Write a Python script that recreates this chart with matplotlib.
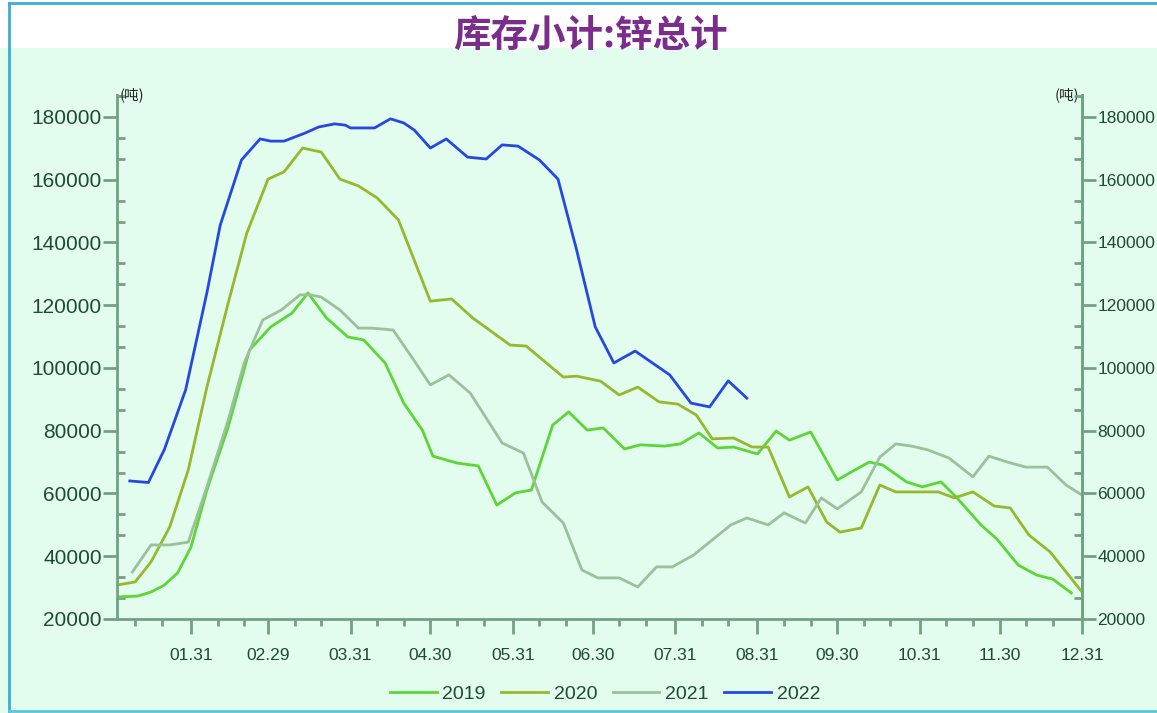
import matplotlib.pyplot as plt
from matplotlib.ticker import FixedLocator, MultipleLocator
from matplotlib.patches import Rectangle

plt.rcParams['font.family'] = ['Liberation Sans', 'Noto Sans CJK SC', 'DejaVu Sans']

# day-of-year (leap-year numbering, 02.29 = day 60) and stocks (吨)
days_2019 = [3, 11, 16, 21, 26, 31, 37, 45, 53, 61, 69, 75, 82, 90, 96, 104, 111, 118, 122, 131,
             139, 146, 153, 159, 167, 173, 180, 186, 194, 200, 209, 215, 222, 229, 235, 244, 251, 256,
             264, 274, 280, 286, 291, 300, 306, 313, 319, 328, 334, 342, 349, 355, 362]
vals_2019 = [27000, 27300, 28600, 30800, 34700, 42900, 61100, 81200, 105700, 113100, 117500, 123900,
             115900, 109900, 108900, 101600, 88800, 80200, 71900, 69700, 68800, 56300, 60200, 61100,
             81800, 86000, 80200, 80900, 74200, 75500, 75100, 75800, 79300, 74500, 74800, 72600, 79900,
             77000, 79600, 64300, 67200, 70000, 69100, 63700, 62100, 63700, 58600, 50000, 45500, 37200,
             34000, 32700, 28300]

days_2020 = [3, 10, 16, 23, 30, 37, 45, 52, 60, 66, 73, 80, 87, 94, 101, 109, 121, 129, 137, 151,
             157, 171, 176, 185, 192, 199, 207, 214, 221, 227, 235, 242, 248, 256, 263, 270, 275, 283,
             290, 296, 312, 318, 325, 333, 339, 346, 354, 360, 366]
vals_2020 = [30800, 31800, 38200, 49300, 67500, 93900, 120700, 143000, 160200, 162500, 170100, 168800,
             160200, 158000, 154200, 147200, 121300, 122000, 115900, 107300, 107000, 97100, 97400, 95800,
             91400, 93900, 89200, 88500, 85000, 77400, 77700, 74800, 74800, 58900, 62100, 50900, 47700,
             49000, 62700, 60500, 60500, 58600, 60500, 56000, 55400, 46800, 41400, 35000, 28600]

days_2021 = [9, 16, 23, 30, 37, 45, 51, 58, 65, 72, 76, 80, 87, 94, 99, 107, 114, 121, 128, 136,
             148, 156, 163, 171, 178, 184, 192, 199, 206, 212, 220, 227, 234, 240, 248, 254, 262, 268,
             274, 283, 290, 296, 302, 308, 316, 325, 331, 338, 345, 353, 360, 366]
vals_2021 = [35000, 43600, 43600, 44500, 62100, 83400, 101600, 115300, 118500, 123300, 123300, 122600,
             118500, 112700, 112700, 112100, 103500, 94600, 97800, 92000, 76100, 72900, 57300, 50600,
             35600, 33100, 33100, 30200, 36600, 36600, 40400, 45200, 50000, 52200, 50000, 53800, 50600,
             58600, 55100, 60500, 71600, 75800, 75100, 73900, 71300, 65300, 71900, 70000, 68400, 68400,
             62700, 59500]

days_2022 = [8, 15, 21, 29, 37, 42, 50, 57, 61, 66, 74, 79, 85, 89, 91, 100, 106, 111, 115, 121,
             127, 135, 142, 148, 154, 162, 169, 176, 183, 190, 198, 211, 219, 226, 233, 240]
vals_2022 = [64000, 63500, 74000, 93000, 124000, 145500, 166300, 173000, 172300, 172300, 174900, 176800,
             177800, 177400, 176500, 176500, 179400, 178100, 175800, 170100, 173000, 167200, 166600, 171100,
             170700, 166300, 160200, 137600, 113100, 101600, 105400, 97800, 88800, 87600, 95900, 90400]

month_ends = [31, 60, 91, 121, 152, 182, 213, 244, 274, 305, 335, 366]
month_labels = ['01.31', '02.29', '03.31', '04.30', '05.31', '06.30',
                '07.31', '08.31', '09.30', '10.31', '11.30', '12.31']
minor_days = [10, 20, 41, 51, 70, 80, 101, 111, 131, 141, 162, 172, 192, 202,
              223, 233, 254, 264, 284, 294, 315, 325, 345, 355]
y_ticks = [20000, 40000, 60000, 80000, 100000, 120000, 140000, 160000, 180000]

bg = '#e2fced'
axis_col = '#74a184'
text_col = '#1f4a33'

fig = plt.figure(figsize=(11.57, 7.13), dpi=100)
fig.patch.set_facecolor(bg)
# white title band and frame
fig.patches.append(Rectangle((0, 1 - 48 / 713), 1, 48 / 713, transform=fig.transFigure,
                             facecolor='white', edgecolor='none', zorder=0))
fig.add_artist(plt.Line2D([9 / 1157, 9 / 1157], [0, 1 - 3 / 713], color='#3aaed8', lw=2))
fig.add_artist(plt.Line2D([9 / 1157, 1], [1 - 3 / 713, 1 - 3 / 713], color='#3aaed8', lw=2))
fig.add_artist(plt.Line2D([9 / 1157, 1], [2 / 713, 2 / 713], color='#5cc8d8', lw=2))

ax = fig.add_axes([117 / 1157, 1 - 619 / 713, (1082 - 117) / 1157, (619 - 95) / 713])
ax.set_facecolor(bg)

ax.plot(days_2019, vals_2019, color='#5cd636', lw=2.0, label='2019')
ax.plot(days_2020, vals_2020, color='#96b82c', lw=2.0, label='2020')
ax.plot(days_2021, vals_2021, color='#9cbf9c', lw=2.0, label='2021')
ax.plot(days_2022, vals_2022, color='#2548e0', lw=2.0, label='2022')

ax.set_xlim(3.2, 366)
ax.set_ylim(20000, 187000)

ax.spines['top'].set_visible(False)
for s in ['left', 'right', 'bottom']:
    ax.spines[s].set_color(axis_col)
    ax.spines[s].set_linewidth(2)

ax.xaxis.set_major_locator(FixedLocator(month_ends))
ax.xaxis.set_minor_locator(FixedLocator(minor_days))
ax.set_xticklabels(month_labels)
ax.tick_params(axis='x', which='major', direction='out', length=11, width=2, color=axis_col,
               labelsize=12.5, labelcolor=text_col, pad=10)
ax.tick_params(axis='x', which='minor', direction='out', length=5, width=2, color=axis_col)

ax.yaxis.set_major_locator(FixedLocator(y_ticks))
ax.yaxis.set_minor_locator(MultipleLocator(20000 / 3))
ax.set_yticklabels([str(v) for v in y_ticks])
ax.tick_params(axis='y', which='major', direction='out', length=10, width=2, color=axis_col,
               labelsize=15, labelcolor=text_col, pad=1)
ax.tick_params(axis='y', which='minor', direction='in', length=6, width=2, color=axis_col)

ax2 = ax.twinx()
ax2.set_ylim(ax.get_ylim())
for s in ['top', 'left', 'bottom']:
    ax2.spines[s].set_visible(False)
ax2.spines['right'].set_color(axis_col)
ax2.spines['right'].set_linewidth(2)
ax2.yaxis.set_major_locator(FixedLocator(y_ticks))
ax2.yaxis.set_minor_locator(MultipleLocator(20000 / 3))
ax2.set_yticklabels([str(v) for v in y_ticks])
ax2.tick_params(axis='y', which='major', direction='out', length=10, width=2, color=axis_col,
                labelsize=12.5, labelcolor=text_col, pad=1)
ax2.tick_params(axis='y', which='minor', direction='in', length=6, width=2, color=axis_col)

ax.text(0.003, 1.0, '(吨)', transform=ax.transAxes, ha='left', va='center', fontsize=10.5,
        color='#222222', family=['Noto Sans CJK SC', 'DejaVu Sans'])
ax.text(0.997, 1.0, '(吨)', transform=ax.transAxes, ha='right', va='center', fontsize=10.5,
        color='#222222', family=['Noto Sans CJK SC', 'DejaVu Sans'])

fig.text(0.51, 1 - 35 / 713, '库存小计:锌总计', ha='center', va='center', fontsize=27,
         fontweight='bold', color='#7b2d8c', family=['Noto Sans CJK SC', 'DejaVu Sans'])

fig.legend(loc='center', bbox_to_anchor=(0.523, 1 - 694 / 713), ncol=4, frameon=False,
           fontsize=14, handlelength=2.4, columnspacing=0.8, handletextpad=0.3,
           labelcolor=text_col)

fig.savefig('out.png', dpi=100, facecolor=bg)
